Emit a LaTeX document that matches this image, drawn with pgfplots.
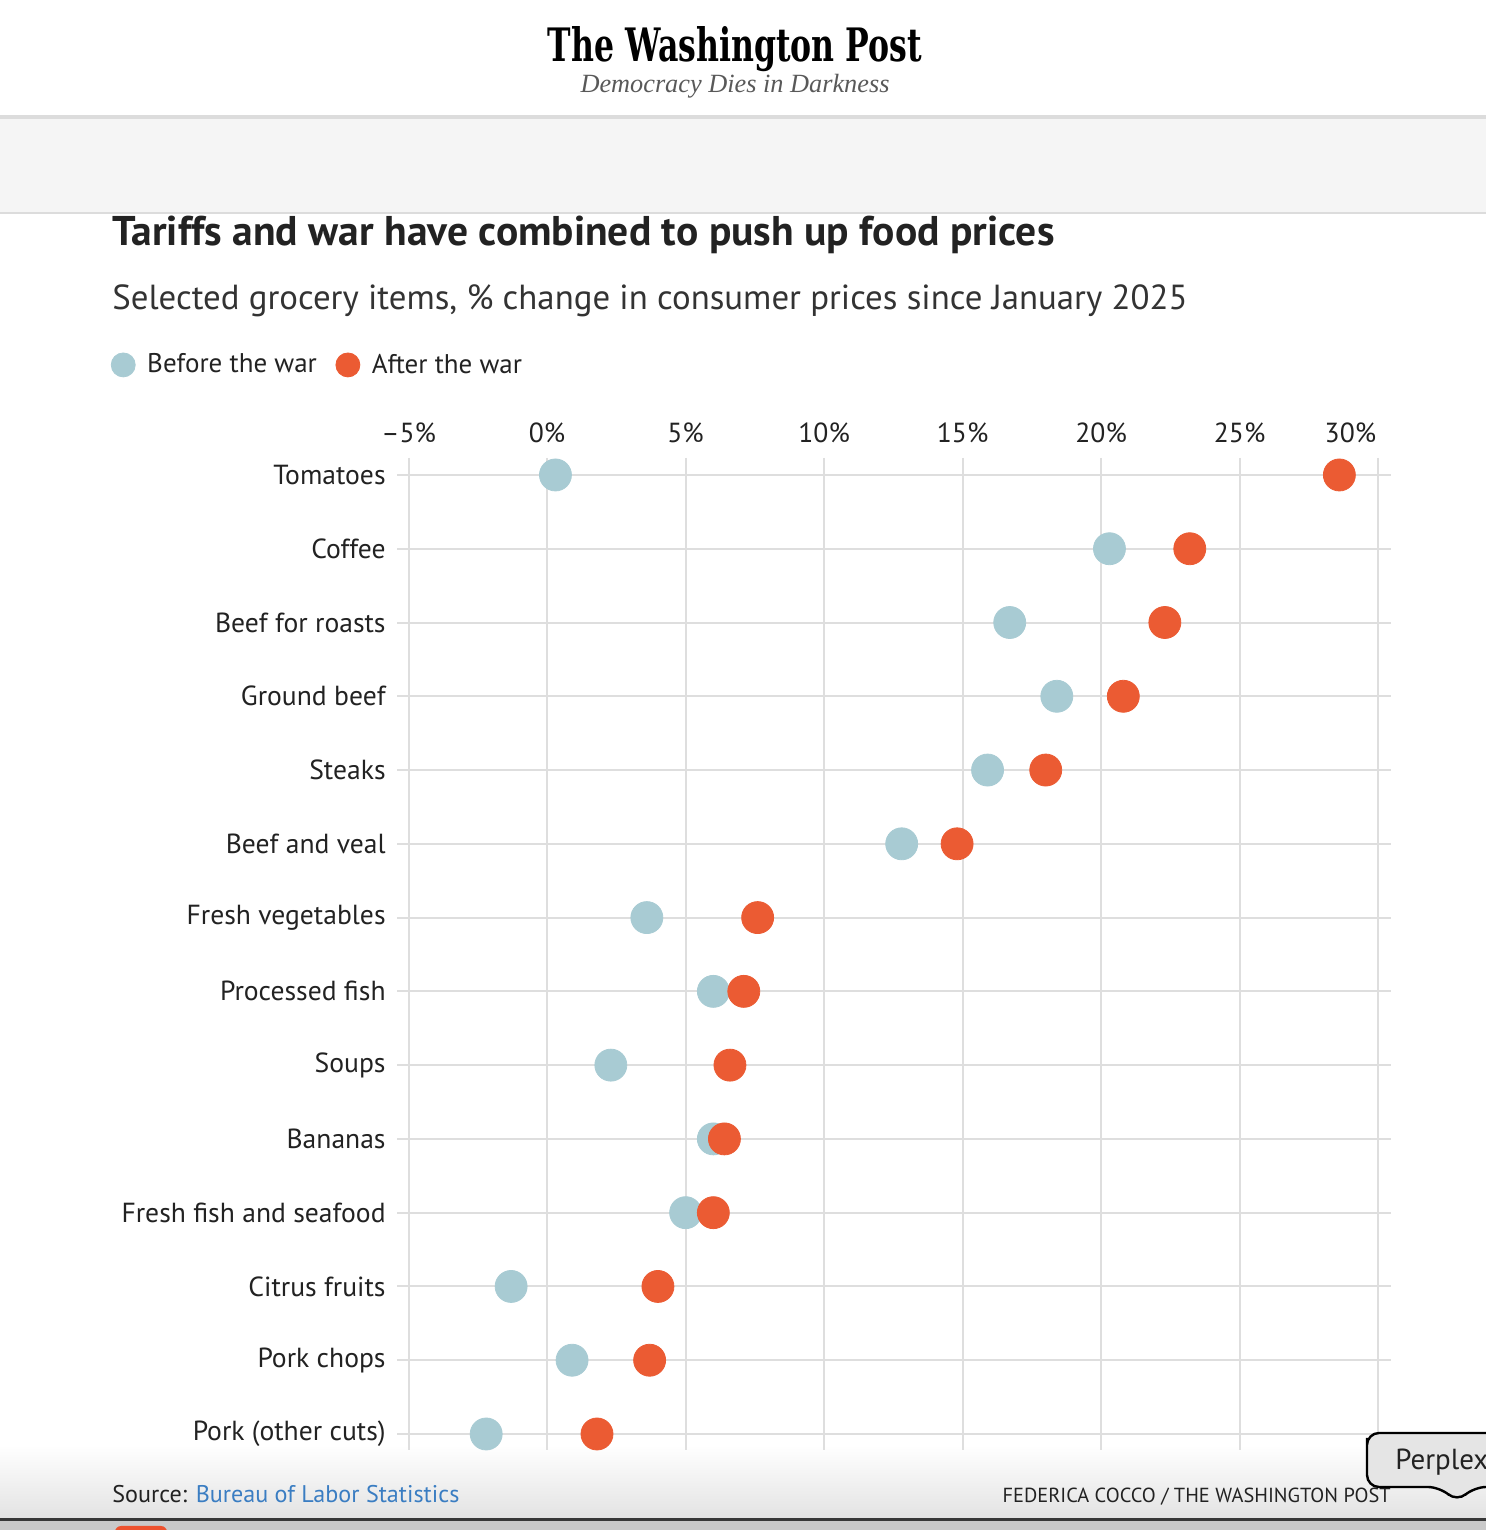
\documentclass[border=0pt]{standalone}
\usepackage{fontspec}
\setmainfont{PT Sans}
\newfontfamily\taglinefont{Liberation Serif}
\newfontfamily\mastfont{DejaVu Serif}
\usepackage{pgfplots}
\usepackage{pgfplotstable}
\pgfplotsset{compat=1.18}

\definecolor{before}{HTML}{A8CBD3}
\definecolor{after}{HTML}{EB5B33}
\definecolor{gridc}{HTML}{DEDEDE}
\definecolor{zeroc}{HTML}{B8B8B8}
\definecolor{ink}{HTML}{222222}
\definecolor{subink}{HTML}{333333}
\definecolor{band}{HTML}{F5F5F5}
\definecolor{bandline}{HTML}{DCDCDC}
\definecolor{linkblue}{HTML}{3A7DC2}

% row index (0 = top), % change before and after the war
\pgfplotstableread{
row before after
0   0.3   28.6
1   20.3  23.2
2   16.7  22.3
3   18.4  20.8
4   15.9  18.0
5   12.8  14.8
6   3.6   7.6
7   6.0   7.1
8   2.3   6.6
9   6.0   6.4
10  5.0   6.0
11  -1.3  4.0
12  0.9   3.7
13  -2.2  1.8
}\grocery

\begin{document}
\begin{tikzpicture}
\path[use as bounding box] (0,0) rectangle (743pt,765pt);

% page furniture, in a top-left based grid of half points
\begin{scope}[x=0.5pt,y=-0.5pt,shift={(0pt,765pt)}]
  \fill[bandline] (0,115) rectangle (1486,119);
  \fill[band] (0,119) rectangle (1486,212);
  \fill[bandline] (0,212) rectangle (1486,214);
  \node[anchor=base,inner sep=0pt] at (735,62) {\resizebox{187pt}{17.5pt}{\mastfont\bfseries The Washington Post}};
  \node[anchor=base,inner sep=0pt,text=black!65] at (735,93) {\resizebox{154.5pt}{!}{\taglinefont\itshape Democracy Dies in Darkness}};
  \node[anchor=base west,inner sep=0pt,text=ink] at (112,246)
    {\resizebox{471pt}{!}{\bfseries Tariffs and war have combined to push up food prices}};
  \node[anchor=base west,inner sep=0pt,text=subink] at (112,310)
    {\resizebox{537.5pt}{!}{Selected grocery items, \% change in consumer prices since January 2025}};
  \shade[top color=white,bottom color=black!11] (0,1445) rectangle (1486,1518);
  \fill[black!78] (0,1518) rectangle (1486,1521);
  \fill[black!21] (0,1521) rectangle (1486,1530);
  \fill[after!90!red,rounded corners=3pt] (115,1526) rectangle (167,1536);
  \node[anchor=base west,inner sep=0pt,text=ink] at (112,1503)
    {\resizebox{173.5pt}{!}{Source: \textcolor{linkblue}{Bureau of Labor Statistics}}};
  \node[anchor=base east,inner sep=0pt,text=ink] at (1391,1503)
    {\resizebox{194pt}{!}{FEDERICA COCCO / THE WASHINGTON POST}};
\end{scope}

\begin{axis}[
  at={(198.5pt,536pt)}, anchor=north west,
  x=13.85pt, y=36.885pt, y dir=reverse,
  xmin=-5.42, xmax=30.45, ymin=-0.23, ymax=13.22,
  axis line style={draw=none},
  major tick length=0pt,
  xtick={-5,0,5,10,15,20,25,30},
  xticklabels={–5\%,0\%,5\%,10\%,15\%,20\%,25\%,\makebox[0pt][r]{30\%\hspace{1pt}}},
  xticklabel pos=right,
  xticklabel style={font=\fontsize{13.8}{16}\selectfont, text=ink, anchor=base, inner sep=0pt, yshift=7.5pt},
  ytick={0,...,13},
  yticklabels={Tomatoes,Coffee,Beef for roasts,Ground beef,Steaks,Beef and veal,Fresh vegetables,Processed fish,Soups,Bananas,Fresh fish and seafood,Citrus fruits,Pork chops,Pork (other cuts)},
  yticklabel style={font=\fontsize{13.8}{16}\selectfont, text=ink, anchor=east, inner sep=0pt, xshift=-5.5pt},
  xmajorgrids, ymajorgrids,
  major grid style={gridc, line width=1pt},
  extra x ticks={0}, extra x tick labels={},
  extra x tick style={grid style={zeroc, line width=1pt}},
  clip=false,
  legend style={draw=none, fill=none, at={(-0.288,1.0938)}, anchor=west,
    legend columns=-1, inner sep=0pt, font=\fontsize{13.5}{15}\selectfont,
    text=ink, /tikz/every odd column/.append style={column sep=4pt},
    /tikz/every even column/.append style={column sep=7.5pt}},
  legend image code/.code={\draw[#1, mark size=6pt] plot coordinates {(6pt,0pt)};},
]
\addplot[only marks, mark=*, mark size=8pt, color=before, mark options={draw=none, fill=before}]
  table[x=before, y=row] {\grocery};
\addlegendentry{Before the war}
\addplot[only marks, mark=*, mark size=8pt, color=after, mark options={draw=none, fill=after}]
  table[x=after, y=row] {\grocery};
\addlegendentry{After the war}
\end{axis}

% tooltip at the lower right corner
\begin{scope}[x=0.5pt,y=-0.5pt,shift={(0pt,765pt)}]
  \clip (0,0) rectangle (1486,1530);
  \draw[line width=1.2pt, fill=black!10, rounded corners=6pt] (1367,1450) -- (1367,1433) -- (1520,1433) -- (1520,1487) -- (1474,1487) -- (1457,1502) -- (1440,1487) -- (1367,1487) -- cycle;
  \node[anchor=base west,inner sep=0pt,text=ink,font=\fontsize{14.5}{16}\selectfont] at (1395,1470) {Perplex};
\end{scope}
\end{tikzpicture}
\end{document}
